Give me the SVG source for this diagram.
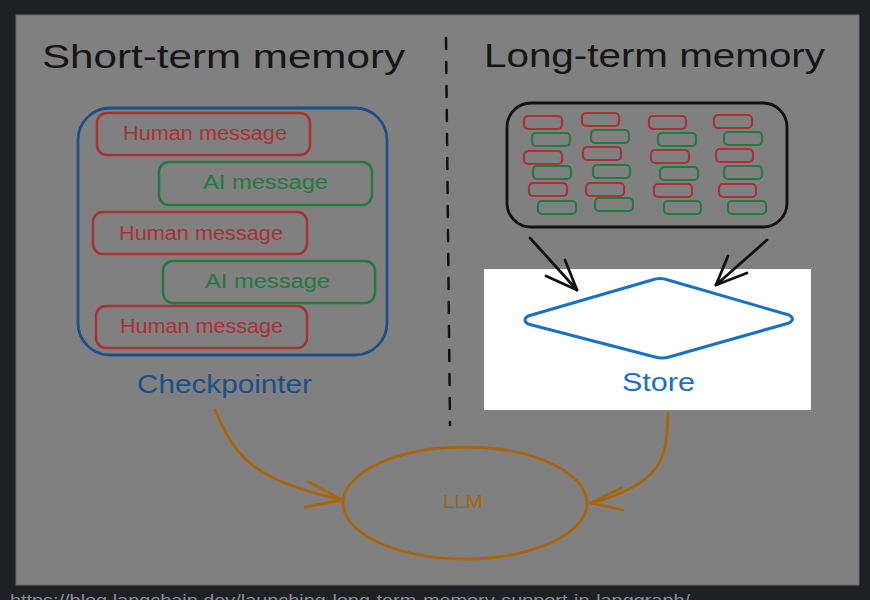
<svg xmlns="http://www.w3.org/2000/svg" width="870" height="600" viewBox="0 0 870 600">
  <defs>
    <style>
      .title { font-family: "Liberation Sans", "DejaVu Sans", sans-serif; font-size: 34px; fill: #151515; }
      .msg { fill: none; stroke-width: 2.5; }
      .hum { stroke: #a83232; }
      .ai { stroke: #237a3c; }
      .humt { font-family: "Liberation Sans", sans-serif; font-size: 20px; fill: #a83232; }
      .ait { font-family: "Liberation Sans", sans-serif; font-size: 20px; fill: #237a3c; }
      .mini { fill: none; stroke-width: 2.2; }
      .lbl { font-family: "Liberation Sans", sans-serif; font-size: 26px; }
      .orange { fill: none; stroke: #a8650c; stroke-width: 2.8; stroke-linecap: round; stroke-linejoin: round; }
      .black { fill: none; stroke: #111; stroke-width: 2.8; stroke-linecap: round; stroke-linejoin: round; }
    </style>
  </defs>

  <rect x="0" y="0" width="870" height="600" fill="#1e2024"/>
  <rect x="16" y="15" width="843" height="570" fill="#808080" stroke="#6a6a6a" stroke-width="1"/>

  <!-- titles -->
  <text class="title" x="42" y="68" textLength="363" lengthAdjust="spacingAndGlyphs">Short-term memory</text>
  <text class="title" x="484" y="67" textLength="341" lengthAdjust="spacingAndGlyphs">Long-term memory</text>

  <!-- divider -->
  <line x1="446" y1="38" x2="450" y2="425" stroke="#111" stroke-width="2.5" stroke-dasharray="11 13" stroke-linecap="round"/>

  <!-- short-term memory / checkpointer -->
  <g id="checkpointer">
    <rect x="78" y="108" width="309" height="247" rx="32" fill="none" stroke="#1c4f8a" stroke-width="2.8"/>
    <text class="lbl" x="137" y="393" fill="#1c4f8a" textLength="175" lengthAdjust="spacingAndGlyphs">Checkpointer</text>
  </g>
  <g id="human1">
    <rect class="msg hum" x="97" y="113" width="213" height="42" rx="10"/>
    <text class="humt" x="123" y="140" textLength="164" lengthAdjust="spacingAndGlyphs">Human message</text>
  </g>
  <g id="ai1">
    <rect class="msg ai" x="159" y="162" width="213" height="43" rx="10"/>
    <text class="ait" x="203" y="189" textLength="125" lengthAdjust="spacingAndGlyphs">AI message</text>
  </g>
  <g id="human2">
    <rect class="msg hum" x="93" y="212" width="214" height="42" rx="10"/>
    <text class="humt" x="119" y="240" textLength="164" lengthAdjust="spacingAndGlyphs">Human message</text>
  </g>
  <g id="ai2">
    <rect class="msg ai" x="163" y="261" width="212" height="42" rx="10"/>
    <text class="ait" x="205" y="288" textLength="125" lengthAdjust="spacingAndGlyphs">AI message</text>
  </g>
  <g id="human3">
    <rect class="msg hum" x="96" y="306" width="211" height="42" rx="10"/>
    <text class="humt" x="120" y="333" textLength="163" lengthAdjust="spacingAndGlyphs">Human message</text>
  </g>

  <!-- long-term memory collection -->
  <g id="memories">
    <rect x="507" y="103" width="280" height="124" rx="24" fill="none" stroke="#111" stroke-width="2.8"/>
    <g class="mini hum">
      <rect x="524" y="116" width="38" height="13" rx="4"/>
      <rect x="524" y="151" width="38" height="13" rx="4"/>
      <rect x="529" y="183" width="38" height="13" rx="4"/>
      <rect x="582" y="113" width="37" height="13" rx="4"/>
      <rect x="583" y="147" width="38" height="13" rx="4"/>
      <rect x="586" y="183" width="38" height="13" rx="4"/>
      <rect x="649" y="116" width="37" height="13" rx="4"/>
      <rect x="651" y="150" width="38" height="13" rx="4"/>
      <rect x="654" y="184" width="38" height="13" rx="4"/>
      <rect x="714" y="115" width="38" height="13" rx="4"/>
      <rect x="716" y="149" width="37" height="13" rx="4"/>
      <rect x="719" y="184" width="37" height="13" rx="4"/>
    </g>
    <g class="mini ai">
      <rect x="532" y="133" width="38" height="13" rx="4"/>
      <rect x="533" y="166" width="38" height="13" rx="4"/>
      <rect x="538" y="201" width="38" height="13" rx="4"/>
      <rect x="591" y="130" width="38" height="13" rx="4"/>
      <rect x="593" y="165" width="37" height="13" rx="4"/>
      <rect x="595" y="198" width="38" height="13" rx="4"/>
      <rect x="658" y="133" width="38" height="13" rx="4"/>
      <rect x="660" y="167" width="38" height="13" rx="4"/>
      <rect x="664" y="201" width="37" height="13" rx="4"/>
      <rect x="724" y="132" width="38" height="13" rx="4"/>
      <rect x="724" y="166" width="38" height="13" rx="4"/>
      <rect x="728" y="201" width="38" height="13" rx="4"/>
    </g>
  </g>

  <!-- highlighted store -->
  <rect x="484" y="269" width="327" height="141" fill="#ffffff"/>
  <g id="store">
    <path d="M528 316 Q522 320 528 324 L655 357 Q662 359 669 357 L789 323 Q796 319 789 315 L668 280 Q660 277 652 280 Z" fill="none" stroke="#1971c2" stroke-width="3" stroke-linejoin="round"/>
    <text class="lbl" x="622" y="391" fill="#1971c2" textLength="73" lengthAdjust="spacingAndGlyphs">Store</text>
  </g>

  <!-- LLM -->
  <g id="llm">
    <ellipse cx="465" cy="503" rx="122" ry="56" fill="none" stroke="#a8650c" stroke-width="2.8"/>
    <text x="443" y="508" font-family="Liberation Sans, sans-serif" font-size="18" fill="#a8650c" textLength="40" lengthAdjust="spacingAndGlyphs">LLM</text>
  </g>

  <!-- connectors -->
  <g id="connectors">
    <path class="black" d="M530 238 L577 290"/>
    <path class="black" d="M577 290 L546 276 M577 290 L565 260"/>
    <path class="black" d="M767 240 L716 285"/>
    <path class="black" d="M716 285 L728 256 M716 285 L747 273"/>
    <path class="orange" d="M215 410 C235 455 250 480 342 500"/>
    <path class="orange" d="M342 500 L309 482 M342 500 L305 507"/>
    <path class="orange" d="M668 413 C666 450 670 482 591 503"/>
    <path class="orange" d="M591 503 L621 488 M591 503 L623 510"/>
  </g>

  <text x="10" y="606" font-family="Liberation Sans, sans-serif" font-size="17" fill="#8a8d92" textLength="680" lengthAdjust="spacingAndGlyphs">https://blog.langchain.dev/launching-long-term-memory-support-in-langgraph/</text>
</svg>
